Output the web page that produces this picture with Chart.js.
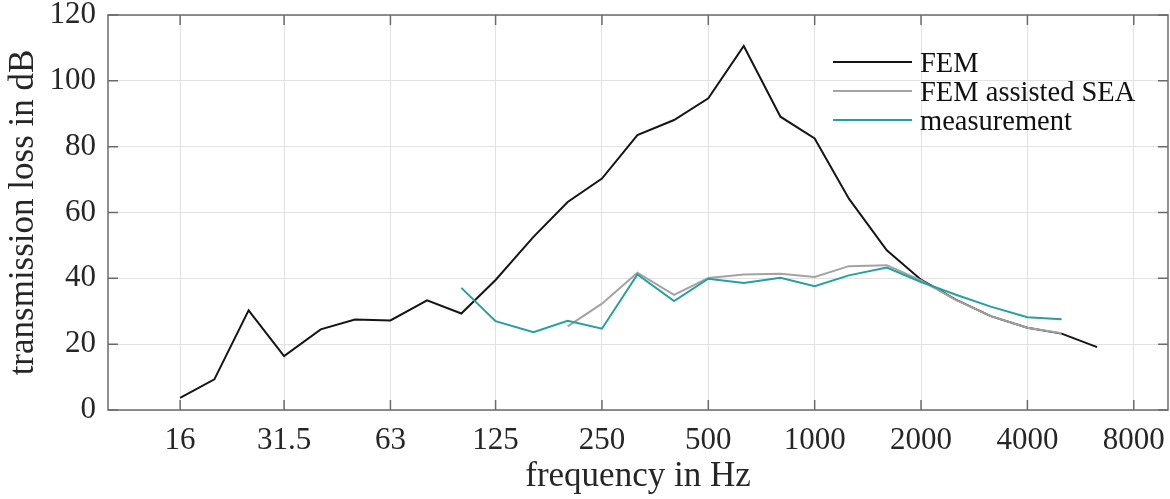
<!DOCTYPE html>
<html>
<head>
<meta charset="utf-8">
<script src="https://cdn.jsdelivr.net/npm/chart.js@4"></script>
<style>
  html, body { margin: 0; padding: 0; background: #fff; }
  #wrap { width: 1170px; height: 499px; }
</style>
</head>
<body>
<div id="wrap"><canvas id="tlChart" width="1170" height="499"></canvas></div>
<script>
// third-octave band centre frequencies (Hz)
const freqs = [16, 20, 25, 31.5, 40, 50, 63, 80, 100, 125, 160, 200, 250, 315, 400, 500, 630, 800, 1000, 1250, 1600, 2000, 2500, 3150, 4000, 5000, 6300];

const femTL = [3.7, 9.3, 30.3, 16.4, 24.5, 27.5, 27.2, 33.3, 29.3, 39.5, 52.6, 63.2, 70.3, 83.5, 88.1, 94.7, 110.6, 89.1, 82.5, 64.2, 48.5, 39.6, 33.6, 28.5, 25.0, 23.2, 19.1];
const seaTL = [null, null, null, null, null, null, null, null, null, null, null, 25.4, 32.3, 41.7, 35.0, 40.1, 41.2, 41.4, 40.4, 43.7, 44.0, 39.4, 33.5, 28.5, 25.0, 23.3, null];
const measTL = [null, null, null, null, null, null, null, null, 37.1, 27.0, 23.6, 27.1, 24.7, 41.2, 33.1, 39.9, 38.6, 40.2, 37.6, 40.9, 43.3, 38.9, 35.1, 31.4, 28.2, 27.6, null];

const xTickValues = [16, 31.5, 63, 125, 250, 500, 1000, 2000, 4000, 8000];
const xTickLabels = ['16', '31.5', '63', '125', '250', '500', '1000', '2000', '4000', '8000'];
const yTickValues = [0, 20, 40, 60, 80, 100, 120];

const SERIF = "'Liberation Serif', 'Times New Roman', serif";
const TEXT = '#262626';
const FRAME = '#6b6b6b';

function toPoints(vals) {
  return freqs.map((f, i) => ({ x: f, y: vals[i] })).filter(p => p.y !== null);
}

// tick labels may hang over the plot edge, don't shrink the plot for them
function noEdgePadding(scale) {
  scale.paddingLeft = 0;
  scale.paddingRight = 0;
  scale.paddingTop = 0;
  scale.paddingBottom = 0;
}

// box with inward ticks on all four sides, like the matlab axes
const framePlugin = {
  id: 'frame',
  afterDraw(chart) {
    const { ctx, chartArea: a, scales } = chart;
    const tl = 10;
    ctx.save();
    ctx.strokeStyle = FRAME;
    ctx.lineWidth = 1.5;
    ctx.beginPath();
    xTickValues.forEach(v => {
      const px = scales.x.getPixelForValue(v);
      ctx.moveTo(px, a.bottom); ctx.lineTo(px, a.bottom - tl);
      ctx.moveTo(px, a.top); ctx.lineTo(px, a.top + tl);
    });
    yTickValues.forEach(v => {
      const py = scales.y.getPixelForValue(v);
      ctx.moveTo(a.left, py); ctx.lineTo(a.left + tl, py);
      ctx.moveTo(a.right, py); ctx.lineTo(a.right - tl, py);
    });
    ctx.stroke();
    ctx.strokeRect(a.left, a.top, a.right - a.left, a.bottom - a.top);
    ctx.restore();
  }
};

// legend without box in the upper right corner
const legendPlugin = {
  id: 'lineLegend',
  afterDraw(chart) {
    const { ctx, chartArea: a } = chart;
    const x0 = a.right - 335;
    const x1 = a.right - 256;
    const tx = a.right - 248;
    ctx.save();
    ctx.font = '28.5px ' + SERIF;
    ctx.textBaseline = 'alphabetic';
    chart.data.datasets.forEach((ds, i) => {
      const y = a.top + 47 + i * 29;
      ctx.strokeStyle = ds.borderColor;
      ctx.lineWidth = 2;
      ctx.beginPath();
      ctx.moveTo(x0, y);
      ctx.lineTo(x1, y);
      ctx.stroke();
      ctx.fillStyle = '#111';
      ctx.fillText(ds.label, tx, y + 9.5);
    });
    ctx.restore();
  }
};

const ctx = document.getElementById('tlChart').getContext('2d');
new Chart(ctx, {
  type: 'line',
  data: {
    datasets: [
      { label: 'FEM', data: toPoints(femTL), borderColor: '#151515', borderWidth: 2, pointRadius: 0, order: 3 },
      { label: 'FEM assisted SEA', data: toPoints(seaTL), borderColor: '#a3a3a3', borderWidth: 2, pointRadius: 0, order: 2 },
      { label: 'measurement', data: toPoints(measTL), borderColor: '#24a09e', borderWidth: 2, pointRadius: 0, order: 1 }
    ]
  },
  options: {
    responsive: false,
    animation: false,
    devicePixelRatio: 1,
    layout: { padding: { top: 15, right: 2, left: 0, bottom: 0 } },
    plugins: {
      legend: { display: false },
      tooltip: { enabled: false }
    },
    scales: {
      x: {
        type: 'logarithmic',
        min: 10,
        max: 10000,
        afterBuildTicks: scale => { scale.ticks = xTickValues.map(v => ({ value: v })); },
        afterFit: scale => { scale.height = 89; noEdgePadding(scale); },
        ticks: {
          autoSkip: false,
          maxRotation: 0,
          padding: 12,
          color: TEXT,
          font: { family: SERIF, size: 31 },
          callback: (v, i) => xTickLabels[i]
        },
        grid: { color: '#e2e2e2', lineWidth: 1, drawTicks: false },
        border: { display: false },
        title: {
          display: true,
          text: 'frequency in Hz',
          color: TEXT,
          font: { family: SERIF, size: 35 },
          padding: { top: 0, bottom: 1 }
        }
      },
      y: {
        min: 0,
        max: 120,
        afterBuildTicks: scale => { scale.ticks = yTickValues.map(v => ({ value: v })); },
        afterFit: scale => { scale.width = 108; noEdgePadding(scale); },
        ticks: {
          padding: 12,
          color: TEXT,
          font: { family: SERIF, size: 31 }
        },
        grid: { color: '#e2e2e2', lineWidth: 1, drawTicks: false },
        border: { display: false },
        title: {
          display: true,
          text: 'transmission loss in dB',
          color: TEXT,
          font: { family: SERIF, size: 35 },
          padding: { top: 3, bottom: 0 }
        }
      }
    }
  },
  plugins: [framePlugin, legendPlugin]
});
</script>
</body>
</html>
